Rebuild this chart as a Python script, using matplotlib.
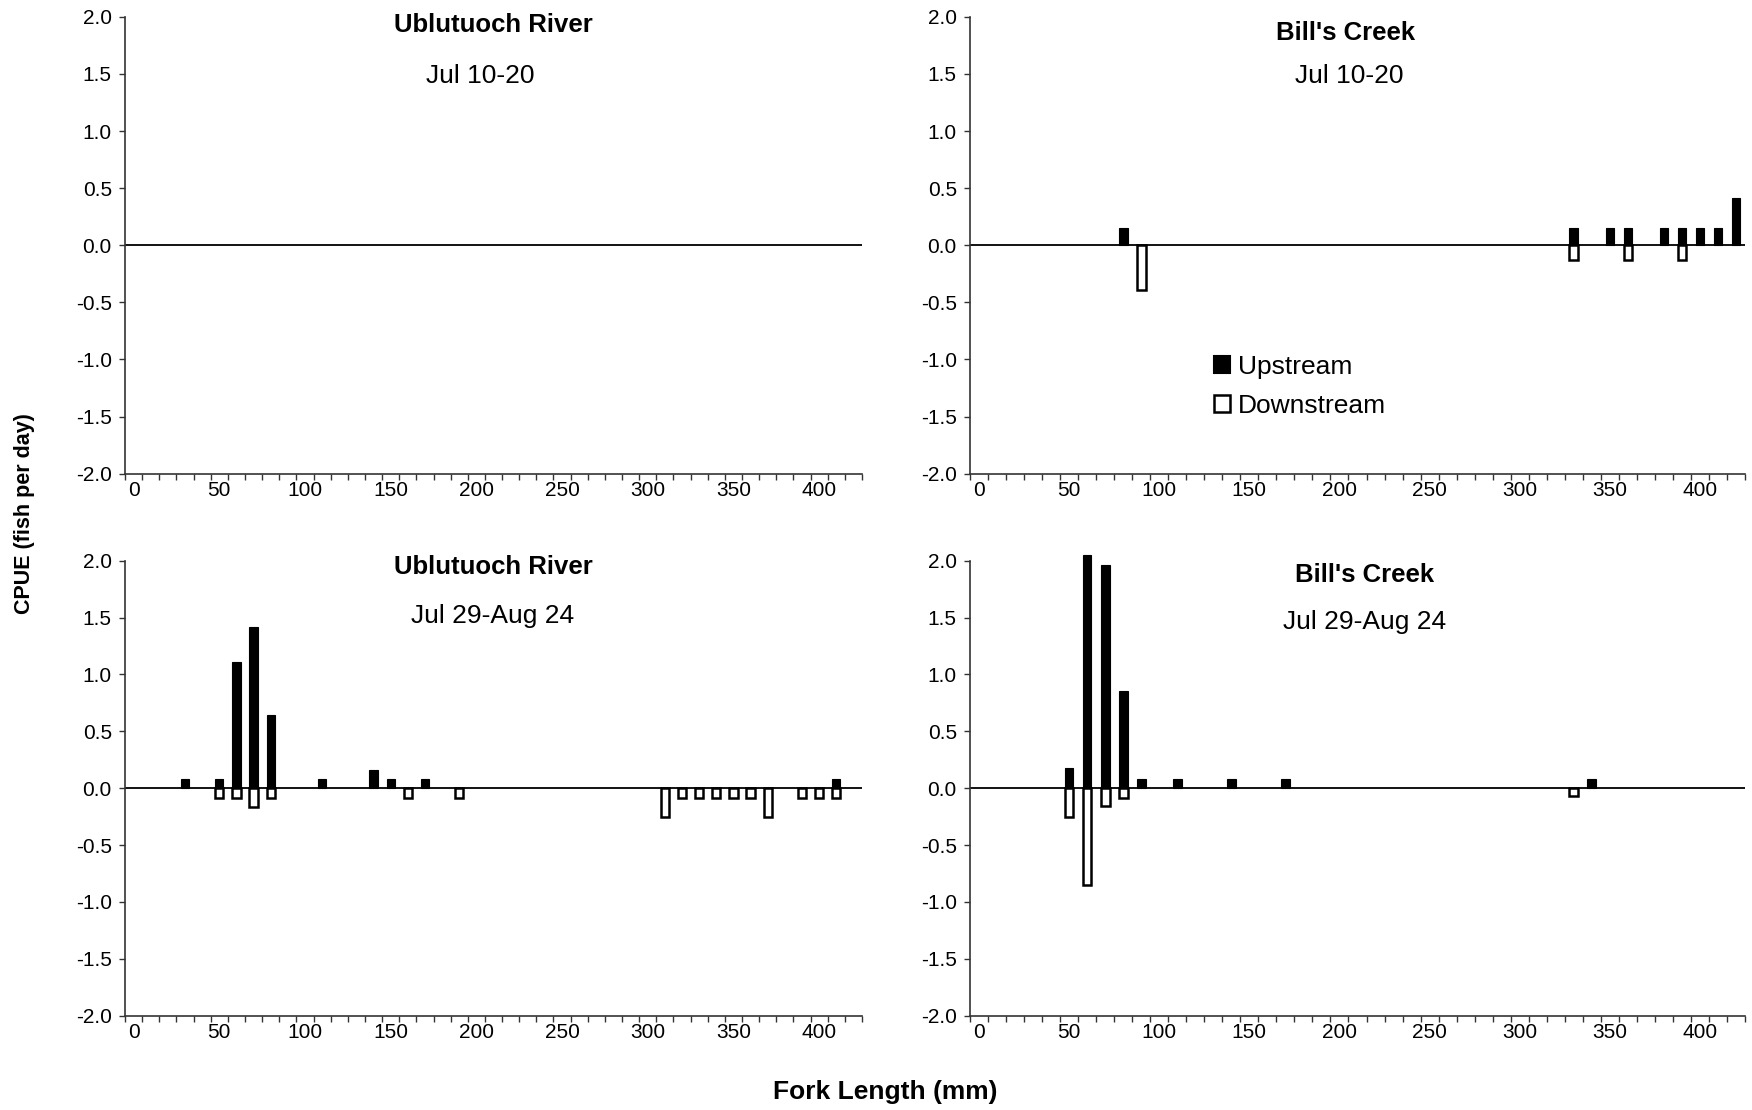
import numpy as np
import matplotlib
matplotlib.use("Agg")
import matplotlib.pyplot as plt
from matplotlib.patches import Patch
from matplotlib import font_manager

# ---------------- data ----------------
categories = list(range(0, 430, 10))          # fork-length classes (mm)
tick_label_values = [0, 50, 100, 150, 200, 250, 300, 350, 400]

# Ublutuoch River, Jul 10-20 (no catches)
ub1_up_len, ub1_up = [], []
ub1_dn_len, ub1_dn = [], []

# Bill's Creek, Jul 10-20
bc1_up_len = [80, 330, 350, 360, 380, 390, 400, 410, 420]
bc1_up = [0.15, 0.15, 0.15, 0.15, 0.15, 0.15, 0.15, 0.15, 0.41]
bc1_dn_len = [90, 330, 360, 390]
bc1_dn = [-0.39, -0.13, -0.13, -0.13]

# Ublutuoch River, Jul 29-Aug 24
ub2_up_len = [30, 50, 60, 70, 80, 110, 140, 150, 170, 410]
ub2_up = [0.08, 0.08, 1.11, 1.42, 0.64, 0.08, 0.16, 0.08, 0.08, 0.08]
ub2_dn_len = [50, 60, 70, 80, 160, 190, 310, 320, 330, 340, 350, 360, 370, 390, 400, 410]
ub2_dn = [-0.09, -0.09, -0.17, -0.09, -0.09, -0.09, -0.25, -0.09, -0.09, -0.09,
          -0.09, -0.09, -0.25, -0.09, -0.09, -0.09]

# Bill's Creek, Jul 29-Aug 24
bc2_up_len = [50, 60, 70, 80, 90, 110, 140, 170, 340]
bc2_up = [0.18, 2.05, 1.96, 0.85, 0.08, 0.08, 0.08, 0.08, 0.08]
bc2_dn_len = [50, 60, 70, 80, 330]
bc2_dn = [-0.25, -0.85, -0.16, -0.09, -0.07]

panel_titles = ["Ublutuoch River", "Bill's Creek", "Ublutuoch River", "Bill's Creek"]
panel_dates = ["Jul 10-20", "Jul 10-20", "Jul 29-Aug 24", "Jul 29-Aug 24"]
legend_labels = ["Upstream", "Downstream"]

# ---------------- fonts ----------------
names = {f.name for f in font_manager.fontManager.ttflist}
NARROW = "Liberation Sans Narrow" if "Liberation Sans Narrow" in names else "Liberation Sans"
plt.rcParams["font.family"] = ["Liberation Sans", "DejaVu Sans"]

W, H = 1752, 1110
fig = plt.figure(figsize=(W / 100, H / 100), dpi=100)


def fx(px):
    return px / W


def fy(py):
    return 1 - py / H


col_x = [(125, 862), (970, 1745)]
row_y = [(16.8, 473.7), (560.7, 1015.6)]

panels = [
    (ub1_up_len, ub1_up, ub1_dn_len, ub1_dn),
    (bc1_up_len, bc1_up, bc1_dn_len, bc1_dn),
    (ub2_up_len, ub2_up, ub2_dn_len, ub2_dn),
    (bc2_up_len, bc2_up, bc2_dn_len, bc2_dn),
]

axes = []
for i, (ul, uv, dl, dv) in enumerate(panels):
    r, c = divmod(i, 2)
    x0, x1 = col_x[c]
    y0, y1 = row_y[r]
    ax = fig.add_axes([fx(x0), fy(y1), (x1 - x0) / W, (y1 - y0) / H])
    axes.append(ax)
    idx_u = [categories.index(v) for v in ul]
    idx_d = [categories.index(v) for v in dl]
    ax.axhline(0, color="black", lw=1.3, zorder=1)
    ax.bar(idx_d, dv, width=0.48, color="white", edgecolor="black", linewidth=1.8,
           zorder=3, clip_on=False)
    ax.bar(idx_u, uv, width=0.48, color="black", edgecolor="black", linewidth=0.8,
           zorder=3, clip_on=False)
    ax.set_xlim(-0.5, len(categories) - 0.5)
    ax.set_ylim(-2, 2)
    yt = np.arange(-2, 2.01, 0.5)
    ax.set_yticks(yt)
    ax.set_yticklabels(["%.1f" % v for v in yt])
    ax.set_xticks([categories.index(v) for v in tick_label_values])
    ax.set_xticklabels([str(v) for v in tick_label_values], family=[NARROW, "Liberation Sans"],
                       fontsize=15)
    ax.set_xticks(np.arange(-0.5, len(categories), 1.0), minor=True)
    ax.tick_params(axis="x", which="major", length=0, pad=5)
    ax.tick_params(axis="x", which="minor", length=4.5, width=1.0, color="#333333",
                   direction="out")
    ax.tick_params(axis="y", length=4.5, width=1.0, color="#333333", pad=5, labelsize=15)
    for s in ("top", "right"):
        ax.spines[s].set_visible(False)
    for s in ("left", "bottom"):
        ax.spines[s].set_color("#333333")
        ax.spines[s].set_linewidth(1.2)
    ax.patch.set_alpha(0)

# titles
title_pos = [(493, 24.5), (1346, 33.5), (493, 567), (1365, 575)]
date_pos = [(480, 76), (1349, 76), (493, 615.5), (1365, 622)]
for t, (px, py) in zip(panel_titles, title_pos):
    fig.text(fx(px), fy(py), t, ha="center", va="center", fontsize=18.5, fontweight="bold")
for t, (px, py) in zip(panel_dates, date_pos):
    fig.text(fx(px), fy(py), t, ha="center", va="center", fontsize=19,
             family=[NARROW, "Liberation Sans"])

fig.text(fx(25), fy(514), "CPUE (fish per day)", rotation=90, ha="center", va="center",
         fontsize=15.5, fontweight="bold")
fig.text(fx(885), fy(1091.6), "Fork Length (mm)", ha="center", va="center",
         fontsize=19, fontweight="bold", family=[NARROW, "Liberation Sans"])

handles = [Patch(facecolor="black", edgecolor="black", linewidth=1.5),
           Patch(facecolor="white", edgecolor="black", linewidth=1.8)]
fig.legend(handles, legend_labels, loc="upper left", bbox_to_anchor=(fx(1213.5), fy(355)),
           bbox_transform=fig.transFigure, frameon=False, fontsize=19, borderpad=0,
           borderaxespad=0, handlelength=0.62, handleheight=0.62, handletextpad=0.3,
           labelspacing=0.55)

fig.savefig("out.png", dpi=100)
